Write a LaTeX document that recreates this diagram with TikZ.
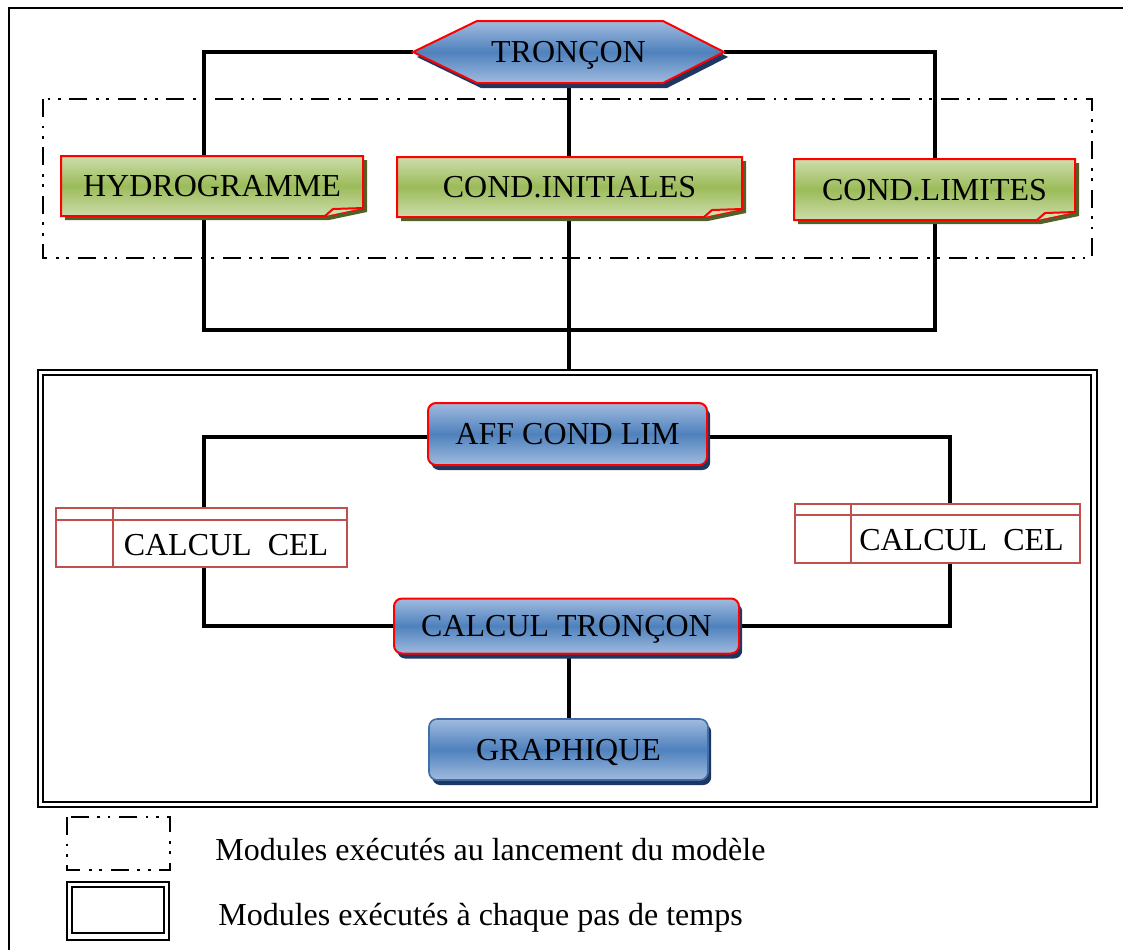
\documentclass[tikz,border=0pt]{standalone}
\usepackage{fontspec}
\setmainfont{Liberation Serif}
\usetikzlibrary{calc,shadows}
\pgfdeclarelayer{background}
\pgfsetlayers{background,main}

\definecolor{bluetop}{RGB}{160,187,222}
\definecolor{bluemid}{RGB}{79,129,189}
\definecolor{blueshadow}{RGB}{30,55,98}
\definecolor{blueedge}{RGB}{65,110,170}
\definecolor{greentop}{RGB}{205,221,172}
\definecolor{greenmid}{RGB}{155,187,89}
\definecolor{greenshadow}{RGB}{79,98,40}
\definecolor{celred}{RGB}{192,80,77}

\tikzset{
  wire/.style={line width=1.6pt},
  frameline/.style={line width=1.2pt},
  dashdotdot/.style={line width=1.1pt,
    dash pattern=on 9pt off 4.3pt on 1.4pt off 3.8pt on 1.4pt off 4.3pt},
  lbl/.style={font=\fontsize{16}{19}\selectfont, inner sep=0pt,
    text height=10.6pt, text depth=0pt},
  bluefill/.style={top color=bluetop, bottom color=bluetop, middle color=bluemid},
  greenfill/.style={top color=greentop, bottom color=greentop, middle color=greenmid},
  blueproc/.style={lbl, rounded corners=4pt, bluefill,
    drop shadow={shadow xshift=1.6pt, shadow yshift=-2.5pt, fill=blueshadow, opacity=1}},
  redproc/.style={blueproc, draw=red, line width=1pt},
  plainproc/.style={blueproc, draw=blueedge, line width=0.8pt},
  celbox/.style={draw=celred, line width=0.8pt},
}

% green note with a folded lower-right corner: name, x1, y1, x2, y2, text
\newcommand\notebox[6]{%
  \fill[greenshadow] (#2+4,#3+4) -- (#4+4,#3+4) -- (#4+4,#5-8+4)
      -- (#4-38+4,#5+4) -- (#2+4,#5+4) -- cycle;
  \path[draw=red, line width=1pt, greenfill] (#2,#3) -- (#4,#3) -- (#4,#5-8)
      -- (#4-38,#5) -- (#2,#5) -- cycle;
  \draw[red, line width=1pt, fill=greentop] (#4-38,#5) -- (#4-30,#5-7) -- (#4,#5-8);
  \node[lbl, minimum width={(#4-#2)*0.5pt}, minimum height={(#5-#3)*0.5pt}]
      (#1) at ({(#2+#4)/2},{(#3+#5)/2}) {#6};
}

% cell block with a header strip and a side column: name, x1, y1, x2, y2, header y, column x, text
\newcommand\celblock[8]{%
  \fill[white] (#2,#3) rectangle (#4,#5);
  \draw[celbox] (#2,#3) rectangle (#4,#5);
  \draw[celbox] (#2,#6) -- (#4,#6);
  \draw[celbox] (#7,#3) -- (#7,#5);
  \node[lbl, minimum width={(#4-#2)*0.5pt}, minimum height={(#5-#3)*0.5pt}]
      (#1) at ({(#2+#4)/2},{(#3+#5)/2}) {};
  \node[lbl] at ({(#7+#4)/2-4},{(#6+#5)/2+1}) {#8};
}

\begin{document}
\begin{tikzpicture}[x=0.5pt, y=-0.5pt]
\useasboundingbox (0,0) rectangle (1123,949);

% page frame
\draw[frameline] (9,960) -- (9,8) -- (1130,8);

% modules run at start-up
\draw[dashdotdot] (43,99) rectangle (1092,258);

% top module
\fill[blueshadow] (417,57) -- (481,26) -- (667,26) -- (728,57) -- (667,88) -- (481,88) -- cycle;
\path[draw=red, line width=1pt, bluefill]
  (413,52) -- (477,21) -- (663,21) -- (724,52) -- (663,83) -- (477,83) -- cycle;
\node[lbl, minimum width=155.5pt, minimum height=31pt] (tron) at (568.5,52) {TRONÇON};

\notebox{hydro}{61}{156}{363}{216}{HYDROGRAMME}
\notebox{condi}{397}{157}{742}{217}{COND.INITIALES}
\notebox{condl}{794}{159}{1075}{220}{COND.LIMITES}

% modules run at each time step
\draw[line width=1.1pt] (38,370) rectangle (1097,807);
\draw[line width=0.9pt] (43,375) rectangle (1091,802);
\coordinate (exectop) at (569,370);

\node[redproc, minimum width=139.5pt, minimum height=31pt] (aff) at (567.5,434) {AFF COND LIM};
\node[redproc, minimum width=172.5pt, minimum height=27.5pt] (ctron) at (566.5,626) {CALCUL TRONÇON};
\node[plainproc, minimum width=139.5pt, minimum height=30.5pt] (graph) at (568.5,749.5) {GRAPHIQUE};

\celblock{cel1}{56}{508}{347}{567}{520}{113}{CALCUL\ \ CEL}
\celblock{cel2}{795}{504}{1080}{563}{515}{851}{CALCUL\ \ CEL}

% junction points of the connectors
\coordinate (tl) at (204,52);
\coordinate (tr) at (935,52);
\coordinate (bl) at (204,330);
\coordinate (br) at (935,330);
\coordinate (jn) at (569,330);
\coordinate (al) at (204,437);
\coordinate (ar) at (950,437);
\coordinate (cl) at (204,626);
\coordinate (cr) at (950,626);

\begin{pgfonlayer}{background}
  \draw[wire] (tron.west) -- (tl) -- (hydro.north -| tl);
  \draw[wire] (hydro.south -| bl) -- (bl) -- (jn);
  \draw[wire] (tron.east) -- (tr) -- (condl.north -| tr);
  \draw[wire] (condl.south -| br) -- (br) -- (jn);
  \draw[wire] (tron.south -| jn) -- (condi.north -| jn);
  \draw[wire] (condi.south -| jn) -- (jn) -- (exectop);
  \draw[wire] (aff.west |- al) -- (al) -- (cel1.north -| al);
  \draw[wire] (cel1.south -| al) -- (cl) -- (ctron.west);
  \draw[wire] (aff.east |- ar) -- (ar) -- (cel2.north -| ar);
  \draw[wire] (cel2.south -| ar) -- (cr) -- (ctron.east);
  \draw[wire] (ctron.south -| jn) -- (graph.north -| jn);
\end{pgfonlayer}

% legend
\draw[dashdotdot] (67,817) rectangle (170,870);
\draw[line width=1pt] (67,882) rectangle (169,940);
\draw[line width=1pt] (72,887) rectangle (164,933);
\node[lbl, anchor=west] (leg1) at (215,850) {Modules exécutés au lancement du modèle};
\node[lbl, anchor=west] (leg2) at (218,915) {Modules exécutés à chaque pas de temps};
\end{tikzpicture}
\end{document}
